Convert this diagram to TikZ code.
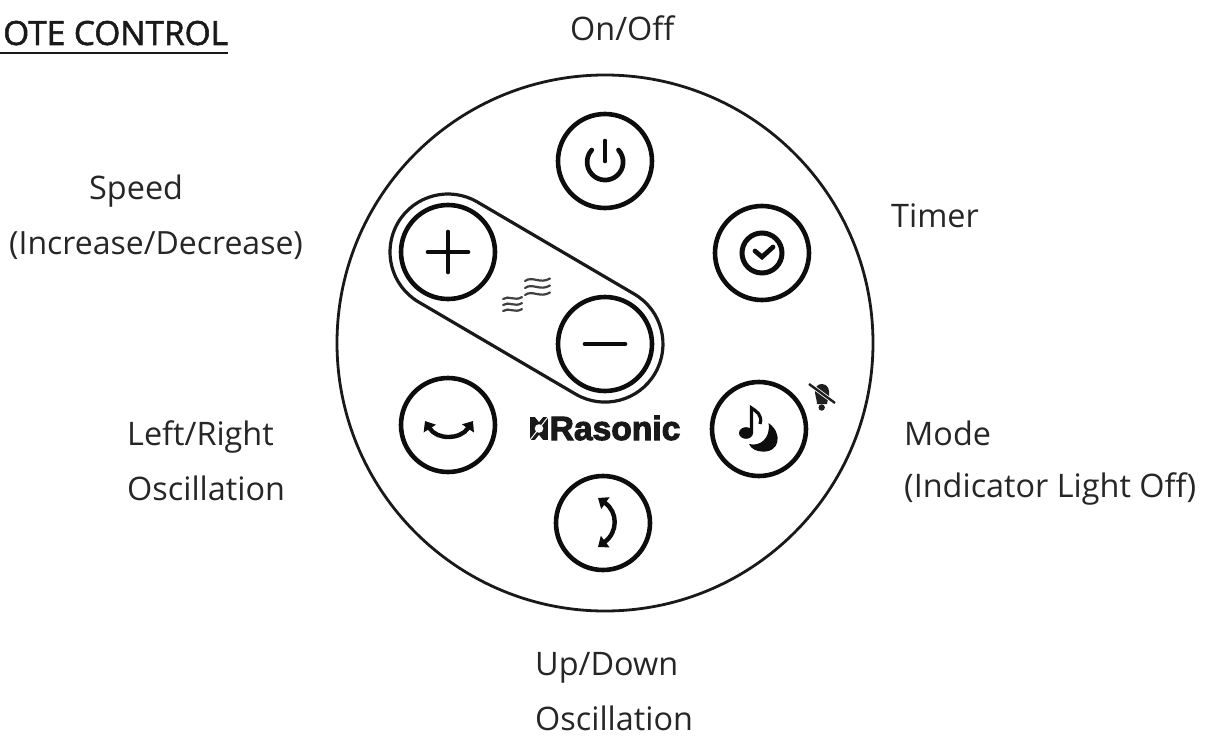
\documentclass[tikz,border=0pt]{standalone}
\usepackage{fontspec}
\setmainfont{Open Sans}
\newfontfamily\logofont[FakeBold=3]{Liberation Sans Bold}
\newfontfamily\titlefont[FakeBold=1.6]{Open Sans}
\usetikzlibrary{arrows.meta,calc}
\tikzset{
  lab/.style={anchor=base west,inner sep=0pt,font=\fontsize{32.4}{32.4}\selectfont,text=black!85},
  btn/.style={circle,draw=black!95,line width=4.6pt,minimum size=94pt,inner sep=0pt},
  icon/.style={draw=black!95,line width=4.7pt,line cap=round},
  wave/.style={draw=black!75,line width=2.2pt,line cap=round},
  dbl/.style={draw=black!95,line width=4.4pt,{Triangle[width=14pt,length=9pt]}-{Triangle[width=14pt,length=9pt]}}
}
\newcommand{\wavy}[3]{\draw[wave] (#1,#2) .. controls (#1+0.3*#3,#2+0.22*#3) and (#1+0.6*#3,#2-0.14*#3) .. (#1+#3,#2+0.1*#3);}
\begin{document}
\begin{tikzpicture}[x=1pt,y=1pt]
\useasboundingbox (0,0) rectangle (1211,-736);
\node[circle,draw=black!90,line width=2.8pt,minimum size=536pt,inner sep=0pt] (body) at (605,-343) {};
\node[btn] (power) at (605,-161) {};
\node[btn] (timer) at (762,-253) {};
\node[btn] (plus) at (448,-252) {};
\node[btn] (minus) at (605,-344) {};
\node[btn] (lr) at (448,-425) {};
\node[btn] (mode) at (759,-429) {};
\node[btn] (ud) at (603,-523) {};
% stadium
\draw[draw=black!90,line width=3.2pt,shift={(448,-252)},rotate=-30.4]
  (0,58) -- (182,58) arc[start angle=90,end angle=-90,radius=58] -- (0,-58) arc[start angle=270,end angle=90,radius=58] -- cycle;
% power
\draw[icon] (605,-141) -- (605,-161);
\draw[icon] (618.5,-150) arc[start angle=42,end angle=-222,radius=18];
% timer
\draw[draw=black!95,line width=5pt] (762,-253) circle[radius=20];
\draw[icon] (755,-251) -- (762,-257) -- (773,-247);
% plus minus
\draw[icon] (428,-252) -- (468,-252) (448,-232) -- (448,-272);
\draw[icon] (585,-344) -- (625,-344);
% waves
\wavy{525}{-281}{25}\wavy{525}{-288}{25}\wavy{525}{-295}{25}
\wavy{503}{-299}{19}\wavy{503}{-305}{19}\wavy{503}{-311}{19}
% lr arrow
\draw[dbl] (425,-421) .. controls (437,-440) and (460,-440) .. (473,-421);
% ud arrow
\draw[dbl] (598,-498) .. controls (618,-512) and (618,-532) .. (598,-547);
% note
\fill[black!95] (746,-433) ellipse[x radius=7,y radius=5.8];
\draw[draw=black!95,line width=3.2pt] (751.5,-433) -- (751.5,-408) .. controls (756,-411) and (763,-415) .. (760,-424);
% moon
\fill[black!95] (768.5,-423) .. controls (783,-433) and (780,-453) .. (762,-451.5) .. controls (757,-451.5) and (751,-449) .. (749,-444) .. controls (760,-447) and (771,-438) .. (768.5,-423) -- cycle;
% muted bell
\fill[black!88] (822,-384) .. controls (828,-384) and (830,-390) .. (829,-396) .. controls (828,-400) and (827,-402) .. (827,-404) -- (817,-404) .. controls (817,-400) and (815,-396) .. (815,-391) .. controls (815,-387) and (818,-384) .. (822,-384) -- cycle;
\fill[black!88] (821.7,-407.5) circle[radius=3.2];
\draw[white,line width=4pt] (809,-384) -- (835,-403);
\draw[draw=black!88,line width=2.4pt] (809,-384) -- (835,-403);
% logo
\fill[black!90] (530,-417) rectangle (548,-440);
\fill[white] (535,-417) -- (543,-417) -- (539,-422) -- cycle;
\fill[white] (535,-440) -- (543,-440) -- (539,-435) -- cycle;
\fill[white] (539,-428.5) circle[radius=4.3];
\draw[white,line width=1pt] (530,-440) -- (548,-417);
\node[anchor=base west,inner sep=0pt,font=\logofont\fontsize{33.6}{33.6}\selectfont,text=black!90] (logo) at (549.5,-440) {Rasonic};
% labels
\node[anchor=base west,inner sep=0pt,font=\titlefont\fontsize{33.4}{33.4}\selectfont,text=black!90] (title) at (3,-45) {OTE CONTROL};
\coordinate (ul) at (0,-53);
\draw[draw=black!90,line width=2.4pt] (ul) -- (228,-53);
\node[lab] (onoff) at (570,-40) {On/Off};
\node[lab] (tm) at (891,-227) {Timer};
\node[lab] (sp) at (89,-199) {Speed};
\node[lab,font=\fontsize{32}{32}\selectfont] (inc) at (9,-254) {(Increase/Decrease)};
\node[lab] (lrt) at (127,-445) {Left/Right};
\node[lab] (lro) at (127,-500) {Oscillation};
\node[lab] (md) at (904,-445) {Mode};
\node[lab] (ind) at (904,-497) {(Indicator Light Off)};
\node[lab] (udt) at (535,-675) {Up/Down};
\node[lab] (udo) at (535,-730) {Oscillation};
\end{tikzpicture}
\end{document}
